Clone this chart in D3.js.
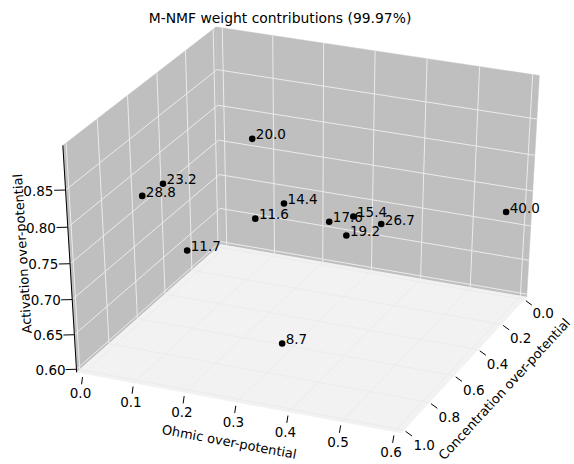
<!DOCTYPE html>
<html>
<head>
<meta charset="utf-8">
<script src="https://cdn.jsdelivr.net/npm/d3@7"></script>
<style>
  body { margin: 0; background: #fff; }
  svg text { font-family: "DejaVu Sans", sans-serif; fill: #000; }
</style>
</head>
<body>
<svg id="chart" width="574" height="464"></svg>
<script>
// data: weight contribution of each component
const pointLabels   = ["20.0", "23.2", "28.8", "14.4", "11.6", "17.6", "15.4", "26.7", "19.2", "11.7", "40.0", "8.7"];
const ohmic         = [0.161, 0.083, 0.063, 0.257, 0.201, 0.344, 0.390, 0.443, 0.377, 0.104, 0.584, 0.333];
const concentration = [0.366, 0.714, 0.786, 0.500, 0.500, 0.500, 0.500, 0.500, 0.500, 0.638, 0.076, 0.809];
const activation    = [0.833, 0.819, 0.812, 0.777, 0.749, 0.762, 0.775, 0.771, 0.747, 0.716, 0.733, 0.644];

const xTicks = [0.0, 0.1, 0.2, 0.3, 0.4, 0.5, 0.6];
const yTicks = [0.0, 0.2, 0.4, 0.6, 0.8, 1.0];
const zTicks = [0.60, 0.65, 0.70, 0.75, 0.80, 0.85];

const title = "M-NMF weight contributions (99.97%)";

// axis limits -> unit box
const X = d3.scaleLinear().domain([0, 0.6]).range([0, 1]);
const Y = d3.scaleLinear().domain([1.0, 0.0]).range([0, 1]);
const Z = d3.scaleLinear().domain([0.6018, 0.9025]).range([0, 1]);
const LO = -1 / 48, HI = 1 + 1 / 48;   // panes are padded a bit past the limits

// camera (perspective, matplotlib-like)
const view = { elev: 33.4152, azim: -66.8025, dist: 12.2597, sx: 3628.66, sy: 2588.74, cx: 306.32, cy: 225.02, zAspect: 1.4237 };

const projection = (() => {
  const k = 1.8294640721620434 / Math.sqrt(41);
  const box = [4 * k, 4 * k, 3 * k * view.zAspect];
  const e = view.elev * Math.PI / 180, a = view.azim * Math.PI / 180;
  const w = [Math.cos(e) * Math.cos(a), Math.cos(e) * Math.sin(a), Math.sin(e)];
  const eye = box.map((b, i) => b / 2 + view.dist * w[i]);
  const n = Math.hypot(w[0], w[1]);
  const u = [-w[1] / n, w[0] / n, 0];
  const v = [w[1] * u[2] - w[2] * u[1], w[2] * u[0] - w[0] * u[2], w[0] * u[1] - w[1] * u[0]];
  const dot = (p, q) => p[0] * q[0] + p[1] * q[1] + p[2] * q[2];
  return (px, py, pz) => {
    const d = [px * box[0] - eye[0], py * box[1] - eye[1], pz * box[2] - eye[2]];
    const depth = -dot(d, w);
    return [view.cx + view.sx * dot(d, u) / depth, view.cy - view.sy * dot(d, v) / depth];
  };
})();

const svg = d3.select("#chart");
const line = d3.line();
const P = (p) => projection(p[0], p[1], p[2]);

// panes
const panes = [
  { fill: "#bfbfbf", pts: [[LO, LO, LO], [LO, HI, LO], [LO, HI, HI], [LO, LO, HI]] },
  { fill: "#bfbfbf", pts: [[LO, HI, LO], [HI, HI, LO], [HI, HI, HI], [LO, HI, HI]] },
  { fill: "#f2f2f2", pts: [[LO, LO, LO], [HI, LO, LO], [HI, HI, LO], [LO, HI, LO]] }
];
svg.append("g").selectAll("path")
  .data(panes)
  .join("path")
  .attr("d", d => line(d.pts.map(P)) + "Z")
  .attr("fill", d => d.fill)
  .attr("stroke", d => d.fill)
  .attr("stroke-width", 0.5);

// grid lines
const grid = [
  ...xTicks.map(t => [[X(t), LO, LO], [X(t), HI, LO], [X(t), HI, HI]]),
  ...yTicks.map(t => [[HI, Y(t), LO], [LO, Y(t), LO], [LO, Y(t), HI]]),
  ...zTicks.map(t => [[LO, LO, Z(t)], [LO, HI, Z(t)], [HI, HI, Z(t)]])
];
svg.append("g").selectAll("path")
  .data(grid)
  .join("path")
  .attr("d", d => line(d.map(P)))
  .attr("fill", "none")
  .attr("stroke", "#ebebeb")
  .attr("stroke-width", 1);

// z axis line
svg.append("path")
  .attr("d", line([P([LO, LO, LO]), P([LO, LO, HI])]))
  .attr("stroke", "#000")
  .attr("stroke-width", 1);

// axes: tick marks + tick labels + axis titles
const axes = [
  { ticks: xTicks, fmt: d3.format(".1f"), at: t => [X(t), LO, LO], off: [0, -0.0231, -0.0805], tick: [0.18, 0.55] },
  { ticks: yTicks, fmt: d3.format(".1f"), at: t => [HI, Y(t), LO], off: [0.0640, 0, -0.0518], tick: [0.08, 0.40] },
  { ticks: zTicks, fmt: d3.format(".2f"), at: t => [LO, LO, Z(t)], off: [-0.0688, -0.0346, 0], tick: [0.0, 0.42] }
];
const shift = (p, off, f) => p.map((c, i) => c + off[i] * f);

axes.forEach(ax => {
  const g = svg.append("g");
  g.selectAll("line")
    .data(ax.ticks)
    .join("line")
    .each(function(t) {
      const a = P(shift(ax.at(t), ax.off, ax.tick[0]));
      const b = P(shift(ax.at(t), ax.off, ax.tick[1]));
      d3.select(this).attr("x1", a[0]).attr("y1", a[1]).attr("x2", b[0]).attr("y2", b[1]);
    })
    .attr("stroke", "#000")
    .attr("stroke-width", 1);
  g.selectAll("text")
    .data(ax.ticks)
    .join("text")
    .attr("transform", t => `translate(${P(shift(ax.at(t), ax.off, 1))})`)
    .attr("text-anchor", "middle")
    .attr("dy", "0.36em")
    .style("font-size", "13.5px")
    .text(ax.fmt);
});

const axisTitles = [
  { text: "Ohmic over-potential", at: [0.5, LO - 0.0548, LO - 0.1555], dir: [[LO, LO, LO], [HI, LO, LO]] },
  { text: "Concentration over-potential", at: [HI + 0.1299, 0.485, LO - 0.0838], dir: [[HI, LO, LO], [HI, HI, LO]] },
  { text: "Activation over-potential", at: [LO - 0.155, LO, 0.5], dir: [[LO, LO, LO], [LO, LO, HI]] }
];
svg.append("g").selectAll("text")
  .data(axisTitles)
  .join("text")
  .attr("transform", d => {
    const [a, b] = d.dir.map(P);
    const ang = Math.atan2(b[1] - a[1], b[0] - a[0]) * 180 / Math.PI;
    return `translate(${P(d.at)}) rotate(${ang})`;
  })
  .attr("text-anchor", "middle")
  .attr("dy", "0.36em")
  .style("font-size", "13px")
  .text(d => d.text);

// points
const pts = pointLabels.map((l, i) => ({ label: l, xy: projection(X(ohmic[i]), Y(concentration[i]), Z(activation[i])) }));

svg.append("g").selectAll("text")
  .data(pts)
  .join("text")
  .attr("x", d => d.xy[0] + 3.6)
  .attr("y", d => d.xy[1] + 0.6)
  .style("font-size", "13.5px")
  .text(d => d.label);

svg.append("g").selectAll("circle")
  .data(pts)
  .join("circle")
  .attr("cx", d => d.xy[0])
  .attr("cy", d => d.xy[1])
  .attr("r", 3.3)
  .attr("fill", "#000");

svg.append("text")
  .attr("x", 280)
  .attr("y", 23)
  .attr("text-anchor", "middle")
  .style("font-size", "13.9px")
  .text(title);
</script>
</body>
</html>
